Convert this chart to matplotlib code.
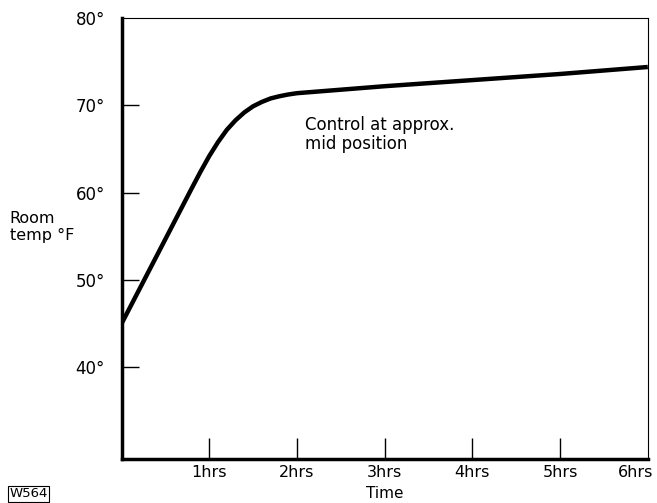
import matplotlib
matplotlib.use("Agg")
import matplotlib.pyplot as plt
import matplotlib.transforms as mtransforms

# values
hours = [0, 0.8, 0.9, 1.0, 1.1, 1.2, 1.3, 1.4, 1.5, 1.6, 1.7, 1.8, 1.9, 2.0, 2.5, 3, 4, 5, 6]
temps = [45, 60.5, 62.4, 64.2, 65.8, 67.2, 68.3, 69.2, 69.9, 70.4, 70.8, 71.05, 71.25, 71.4,
         71.8, 72.2, 72.9, 73.6, 74.4]
x_ticks = [1, 2, 3, 4, 5, 6]
x_labels = ["1hrs", "2hrs", "3hrs", "4hrs", "5hrs", "6hrs"]
y_ticks = [40, 50, 60, 70, 80]
y_labels = ["40°", "50°", "60°", "70°", "80°"]

fig = plt.figure(figsize=(6.57, 5.03), dpi=100)
ax = fig.add_axes([0.185, 0.0875, 0.801, 0.8765])

ax.plot(hours, temps, color="black", lw=3.2, solid_capstyle="butt")

ax.set_xlim(0, 6)
ax.set_ylim(29.5, 80)
ax.set_xticks(x_ticks)
ax.set_xticklabels(x_labels, fontsize=11.5)
ax.set_yticks(y_ticks)
ax.set_yticklabels(y_labels, fontsize=12)
ax.tick_params(axis="x", direction="in", length=15, width=1, pad=4)
ax.tick_params(axis="y", direction="in", length=12, width=1, pad=12)

# last x tick sits on the right border: no mark, label nudged left
last = ax.xaxis.get_major_ticks()[-1]
last.tick1line.set_visible(False)
lab = ax.get_xticklabels()[-1]
lab.set_transform(lab.get_transform() + mtransforms.ScaledTranslation(-12 / 100, 0, fig.dpi_scale_trans))
ax.get_yticklines()[-2].set_visible(False)

ax.spines["left"].set_linewidth(2.5)
ax.spines["bottom"].set_linewidth(2.5)
ax.spines["top"].set_linewidth(0.8)
ax.spines["right"].set_linewidth(0.8)

ax.text(2.09, 68.8, "Control at approx.\nmid position", fontsize=12,
        va="top", ha="left", linespacing=1.05)

fig.text(0.015, 0.548, "Room\ntemp °F", fontsize=11.5, ha="left", va="center",
         linespacing=1.15)
fig.text(0.586, 0.018, "Time", fontsize=11, ha="center", va="center")
fig.text(0.014, 0.018, "W564", fontsize=9.5, ha="left", va="center",
         bbox=dict(boxstyle="square,pad=0.1", fc="white", ec="black", lw=0.8))

fig.savefig("out.png", dpi=100)
